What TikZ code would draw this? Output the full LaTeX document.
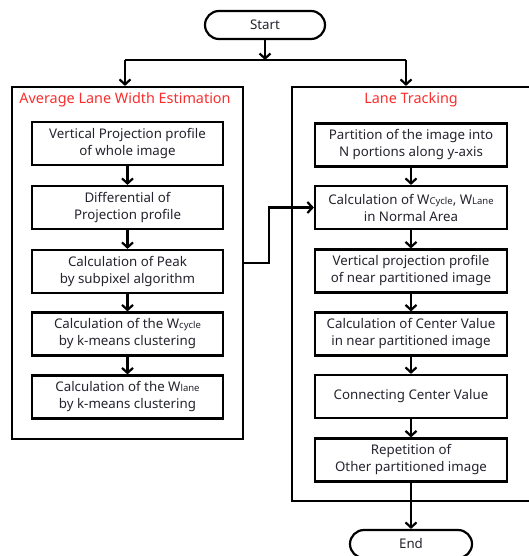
\documentclass[tikz,border=0pt]{standalone}
\usepackage{fontspec}
\setmainfont{Noto Sans}
\usetikzlibrary{arrows.meta}
\definecolor{titlered}{RGB}{250,45,45}
\definecolor{txt}{RGB}{35,35,45}
\tikzset{
  every node/.style={font=\fontsize{13.3}{17}\selectfont, text=txt},
  stepbox/.style={draw=black, line width=2.2pt, align=center, minimum height=43pt, inner sep=0pt},
  termbox/.style={draw=black, line width=2.2pt, rounded corners=14pt, minimum width=120pt, minimum height=28pt, inner sep=0pt},
  groupbox/.style={draw=black, line width=2.2pt, inner sep=0pt},
  grouptitle/.style={font=\fontsize{14.4}{17}\selectfont, text=titlered},
  arr/.style={draw=black, line width=2.2pt, -{Straight Barb[length=5pt,width=11pt,line width=2.2pt]}},
  ln/.style={draw=black, line width=2.2pt},
}
\newcommand{\sm}[1]{{\fontsize{9.5}{10}\selectfont #1}}
\begin{document}
\begin{tikzpicture}[x=1pt,y=-1pt]
\clip (0,0) rectangle (529,556);
\useasboundingbox (0,0) rectangle (529,556);
% terminals
\node[termbox] (start) at (265,25) {Start};
\node[termbox, minimum width=122pt] (end) at (411,544) {End};
% containers
\node[groupbox, minimum width=231pt, minimum height=352pt] (lc) at (127.5,263) {};
\node[groupbox, minimum width=253pt, minimum height=414pt] (rc) at (418.5,294) {};
\node[grouptitle] (lt) at (125,100) {Average Lane Width Estimation};
\node[grouptitle] (rt) at (411,100) {Lane Tracking};
% left steps
\node[stepbox, minimum width=191pt] (l1) at (127.5,143.5) {Vertical Projection profile\\of whole image};
\node[stepbox, minimum width=191pt] (l2) at (127.5,207.5) {Differential of\\Projection profile};
\node[stepbox, minimum width=191pt] (l3) at (127.5,271.5) {Calculation of Peak\\by subpixel algorithm};
\node[stepbox, minimum width=191pt] (l4) at (127.5,334) {Calculation of the W\sm{cycle}\\by k-means clustering};
\node[stepbox, minimum width=191pt] (l5) at (127.5,397) {Calculation of the W\sm{lane}\\by k-means clustering};
% right steps
\node[stepbox, minimum width=192pt] (r1) at (411,145) {Partition of the image into\\N portions along y-axis};
\node[stepbox, minimum width=192pt] (r2) at (411,207.5) {Calculation of W\sm{Cycle}, W\sm{Lane}\\in Normal Area};
\node[stepbox, minimum width=192pt] (r3) at (411,271) {Vertical projection profile\\of near partitioned image};
\node[stepbox, minimum width=192pt] (r4) at (411,334) {Calculation of Center Value\\in near partitioned image};
\node[stepbox, minimum width=192pt] (r5) at (411,396.5) {Connecting Center Value};
\node[stepbox, minimum width=192pt] (r6) at (411,460) {Repetition of\\Other partitioned image};
% split from start
\coordinate (split) at (265,60);
\coordinate (sl) at (125,60);
\coordinate (sr) at (406,60);
\draw[arr] (start.south) -- (split);
\draw[ln] (sl) -- (sr);
\draw[arr] (sl) -- (sl |- lc.north);
\draw[arr] (sr) -- (sr |- rc.north);
% left chain
\draw[arr] (l1) -- (l2);
\draw[arr] (l2) -- (l3);
\draw[arr] (l3) -- (l4);
\draw[arr] (l4) -- (l5);
% right chain
\draw[arr] (r1) -- (r2);
\draw[arr] (r2) -- (r3);
\draw[arr] (r3) -- (r4);
\draw[arr] (r4) -- (r5);
\draw[arr] (r5) -- (r6);
\draw[arr] (r6) -- (end);
% cross link
\draw[arr] (lc.east) -- ++(25,0) |- (r2.west);
\end{tikzpicture}
\end{document}
